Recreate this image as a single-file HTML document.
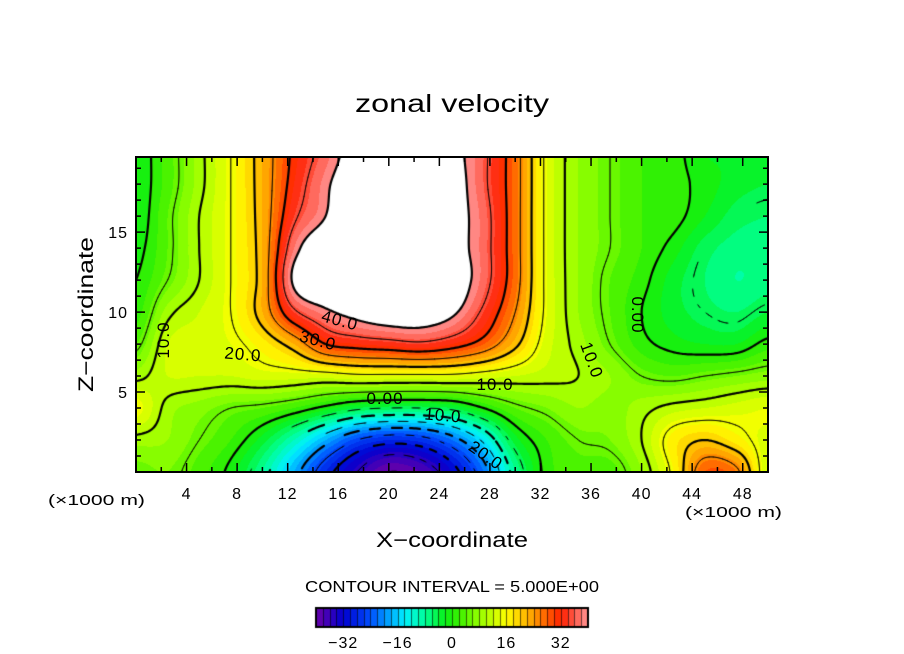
<!DOCTYPE html>
<html><head><meta charset="utf-8">
<style>
html,body{margin:0;padding:0;background:#fff;width:904px;height:654px;overflow:hidden}
#wrap{position:relative;width:904px;height:654px}
canvas{position:absolute;left:0;top:0}
svg{position:absolute;left:0;top:0}
text{font-family:"Liberation Sans",sans-serif;fill:#000}
</style></head><body>
<div id="wrap">
<canvas id="cv" width="904" height="654"></canvas>
<svg id="sv" width="904" height="654"></svg>
</div>
<script>
// ---- data ----
const xCoords=[0,2.5,5,7.5,10,12.5,15,17.5,20,22.5,25,27.5,30,32.5,35,37.5,40,42.5,45,47.5,50];
const zCoords=[0,2,4,6,8,10,12,14,16,18,20];
const uRow0 =[5,6,3,-1,-8,-18,-28,-35,-40,-38,-32,-22,-8,1,3,3,8,16,28,26,12];
const uRow2 =[9,8,5,2,-3,-10,-18,-25,-28,-27,-22,-14,-3,2,5,6,10,17,20,17,13];
const uRow4 =[15,9,7,5,4,2,-1,-4,-5,-5,-4,0,4,6,8,7,9,11,12,13,14];
const uRow6 =[9,12,12,12,13,13,13,14,14,14,14,13,12,11,10,8,5,4,5,6,7];
const uRow8 =[4,12,13,14,17,22,30,32,33,34,32,28,21,13,9,5,1,-1,-2,-2,1];
const uRow10=[1,9,12,15,22,34,39,42,44,44,41,34,25,14,8,4,0,-3,-5,-6,-4];
const uRow12=[0,5,10,15,22,41,46,48,50,50,44,37,27,14,8,4,1,-3,-6,-8,-7];
const uRow14=[-1,4,10,15,22,38,45,50,50,50,43,37,27,14,8,5,2,-1,-5,-7,-7];
const uRow16=[-2,4,10,15,22,34,40,48,50,50,43,37,27,14,8,5,2,1,-2,-5,-6];
const uRow18=[-2,3,9,15,22,32,39,45,49,48,43,36,27,14,8,5,2,1,-1,-3,-4];
const uRow20=[-2,3,9,15,22,31,37,43,47,46,42,36,27,14,8,5,2,1,-2,-2,-2];
const xTicks=[4,8,12,16,20,24,28,32,36,40,44,48];
const zTicks=[5,10,15];
const cbTicks=[-32,-16,0,16,32];
const levels=[-40,-35,-30,-25,-20,-15,-10,-5,0,5,10,15,20,25,30,35,40];

const rows=[uRow0,uRow2,uRow4,uRow6,uRow8,uRow10,uRow12,uRow14,uRow16,uRow18,uRow20];
const X0=136,X1=768,Y0=157,Y1=472,XMAX=50,ZMAX=19.7;
const sx=x=>X0+(x/XMAX)*(X1-X0);
const sz=z=>Y1-(z/ZMAX)*(Y1-Y0);

function cr(p0,p1,p2,p3,t){return p1+0.5*t*(p2-p0+t*(2*p0-5*p1+4*p2-p3+t*(3*(p1-p2)+p3-p0)));}
function g(i,j){i=Math.max(0,Math.min(xCoords.length-1,i));j=Math.max(0,Math.min(rows.length-1,j));return rows[j][i];}
function field(x,z){
  const dx=xCoords[1]-xCoords[0],dz=zCoords[1]-zCoords[0];
  let fx=x/dx,fz=z/dz;
  let i=Math.min(Math.floor(fx),xCoords.length-2),j=Math.min(Math.floor(fz),rows.length-2);
  const tx=fx-i,tz=fz-j;const c=[];
  for(let k=-1;k<=2;k++)c.push(cr(g(i-1,j+k),g(i,j+k),g(i+1,j+k),g(i+2,j+k),tx));
  return cr(c[0],c[1],c[2],c[3],tz);
}
const stops=[[-40,[106,0,168]],[-32,[0,0,208]],[-24,[0,80,255]],[-14,[0,240,255]],[-8,[0,255,150]],[-2,[10,240,20]],[2,[60,240,0]],[8,[150,255,0]],[16,[255,255,0]],[24,[255,153,0]],[32,[255,32,0]],[40,[255,150,150]]];
function cmap(v){
  if(v>40)return [255,255,255];
  v=Math.floor(v/2)*2+1;
  if(v<=-40)return stops[0][1];
  for(let k=0;k<stops.length-1;k++){const a=stops[k],b=stops[k+1];if(v<=b[0]){const t=(v-a[0])/(b[0]-a[0]);return a[1].map((c,m)=>Math.round(c+t*(b[1][m]-c)));}}
  return stops[stops.length-1][1];
}
const cv=document.getElementById('cv');const ctx=cv.getContext('2d');
const W=X1-X0,H=Y1-Y0;
const img=ctx.createImageData(W,H);
for(let py=0;py<H;py++){const z=(H-py-0.5)/H*ZMAX;for(let px=0;px<W;px++){const x=(px+0.5)/W*XMAX;const c=cmap(field(x,z));const o=(py*W+px)*4;img.data[o]=c[0];img.data[o+1]=c[1];img.data[o+2]=c[2];img.data[o+3]=255;}}
ctx.putImageData(img,X0,Y0);
// contours
const S=2,nx=Math.ceil(W/S),ny=Math.ceil(H/S);
const G=[];for(let j=0;j<=ny;j++){G.push([]);for(let i=0;i<=nx;i++){G[j].push(field(Math.min(i*S,W)/W*XMAX,(H-Math.min(j*S,H))/H*ZMAX));}}
ctx.save();ctx.beginPath();ctx.rect(X0,Y0,W,H);ctx.clip();ctx.strokeStyle='#000';ctx.lineCap='round';
levels.forEach(L=>{
  ctx.lineWidth=(L%10===0)?2.2:0.9;
  ctx.beginPath();
  for(let j=0;j<ny;j++)for(let i=0;i<nx;i++){
    const a=G[j][i],b=G[j][i+1],c=G[j+1][i+1],d=G[j+1][i];
    const pts=[];
    const e=(v1,v2,x1,y1,x2,y2)=>{if((v1<L)!==(v2<L)){const t=(L-v1)/(v2-v1);pts.push([x1+t*(x2-x1),y1+t*(y2-y1)]);}};
    const x0=X0+i*S,y0=Y0+j*S;
    e(a,b,x0,y0,x0+S,y0);e(b,c,x0+S,y0,x0+S,y0+S);e(d,c,x0,y0+S,x0+S,y0+S);e(a,d,x0,y0,x0,y0+S);
    for(let k=0;k+1<pts.length;k+=2){
      if(L<0&&Math.floor((pts[k][0]+pts[k][1])/10)%2===1)continue;
      ctx.moveTo(pts[k][0],pts[k][1]);ctx.lineTo(pts[k+1][0],pts[k+1][1]);
    }
  }
  ctx.stroke();
});
ctx.restore();
// colorbar
const CB0=316,CB1=588,CBY=608,CBH=19;
for(let px=CB0;px<CB1;px++){const v=-40+(px-CB0+0.5)/(CB1-CB0)*80;const c=cmap(Math.min(v,39.9));ctx.fillStyle=`rgb(${c})`;ctx.fillRect(px,CBY,1,CBH);}
for(let v=-40;v<40;v+=2){const px=CB0+(v+40)/80*(CB1-CB0);ctx.fillStyle='rgba(0,0,0,0.6)';ctx.fillRect(Math.round(px),CBY,1,CBH);}
ctx.strokeStyle='#000';ctx.lineWidth=2;ctx.strokeRect(CB0,CBY,CB1-CB0,CBH);

// SVG overlay
const NS='http://www.w3.org/2000/svg';const sv=document.getElementById('sv');
function mk(tag,attrs,txt){const el=document.createElementNS(NS,tag);for(const k in attrs)el.setAttribute(k,attrs[k]);if(txt!==undefined)el.textContent=txt;sv.appendChild(el);return el;}
let el;
el=mk('rect',{x:X0,y:Y0,width:W,height:H,fill:'none',stroke:'#000','stroke-width':2});


for(let x=2;x<50;x+=2){const p=sx(x);const len=(x%4===0)?9:5;
  el=mk('path',{d:`M${p},${Y1}v${-len}M${p},${Y0}v${len}`,stroke:'#000','stroke-width':1.5});
  
  }
for(let z=1;z<20;z++){const p=sz(z);const len=(z%5===0)?9:5;
  el=mk('path',{d:`M${X0},${p}h${len}M${X1},${p}h${-len}`,stroke:'#000','stroke-width':1.5});
  
  }
xTicks.forEach(x=>{const s=String(x);el=mk('text',{x:sx(x),y:499,'font-size':16,'text-anchor':'middle','letter-spacing':1},s);
  
  });
zTicks.forEach(z=>{el=mk('text',{x:128,y:sz(z)+6,'font-size':16,'text-anchor':'end','letter-spacing':1},String(z));
  
  });
cbTicks.forEach(v=>{el=mk('text',{x:CB0+(v+40)/80*(CB1-CB0),y:648,'font-size':16,'text-anchor':'middle','letter-spacing':1},(v<0?'\u2212':'')+Math.abs(v));
  
  });
el=mk('text',{x:355,y:112,'font-size':25,textLength:194,lengthAdjust:'spacingAndGlyphs'},'zonal velocity');


el=mk('text',{x:376,y:547,'font-size':21,textLength:152,lengthAdjust:'spacingAndGlyphs'},'X\u2212coordinate');


el=mk('text',{x:0,y:0,'font-size':21,transform:'translate(93,392) rotate(-90)',textLength:155,lengthAdjust:'spacingAndGlyphs'},'Z\u2212coordinate');


el=mk('text',{x:48,y:505,'font-size':15,textLength:97,lengthAdjust:'spacingAndGlyphs'},'(\u00d71000 m)');


el=mk('text',{x:685,y:517,'font-size':15,textLength:97,lengthAdjust:'spacingAndGlyphs'},'(\u00d71000 m)');


el=mk('text',{x:305,y:592,'font-size':16,textLength:294,lengthAdjust:'spacingAndGlyphs'},'CONTOUR INTERVAL = 5.000E+00');


const cLabels=[['40.0',340,320,15],['30.0',318,340,15],['20.0',243,354,5],['10.0',163,340,-90],['0.00',385,398,0],['10.0',443,415,5],['20.0',486,455,35],['10.0',495,384,0],['10.0',592,360,70],['0.00',638,315,90]];
cLabels.forEach(l=>{el=mk('text',{x:0,y:0,'font-size':17,'text-anchor':'middle','letter-spacing':1,transform:`translate(${l[1]},${l[2]}) rotate(${l[3]})`,dy:6},l[0]);
  
  });
</script>
</body></html>
